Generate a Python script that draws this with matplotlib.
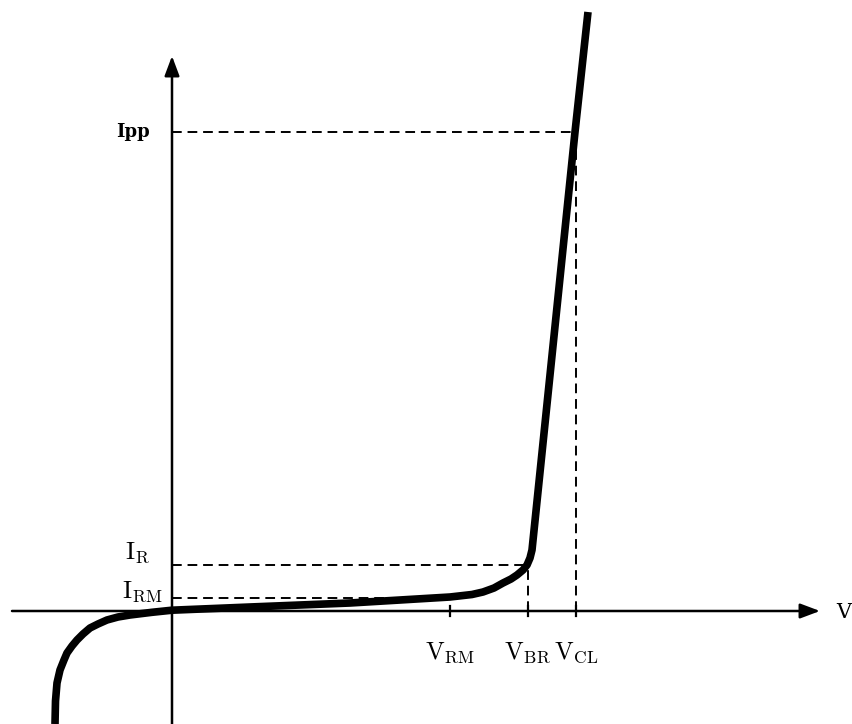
import matplotlib
matplotlib.use('Agg')
import matplotlib.pyplot as plt

plt.rcParams['mathtext.fontset'] = 'cm'
plt.rcParams['font.family'] = 'DejaVu Serif'

# diode I-V curve (arbitrary units, origin at axes cross)
volt = [-117, -116.5, -115, -112, -108, -105, -100, -95, -89, -82, -74, -65, -54,
        -42, -20, 0, 78, 178, 228, 278, 300, 311, 322, 331, 339, 345, 351, 355,
        358, 360, 403, 416]
curr = [-113, -90, -72, -59, -49, -42, -35, -29, -23, -17, -13, -9, -6,
        -4, -1.3, 0.8, 4, 8, 11, 14, 16.5, 19, 23, 28, 32, 36, 41, 46,
        53, 61, 479, 599]

# characteristic points
v_names = [r'$\mathrm{V_{RM}}$', r'$\mathrm{V_{BR}}$', r'$\mathrm{V_{CL}}$']
v_vals = [278, 356, 404]
i_names = [r'$\mathrm{I_{RM}}$', r'$\mathrm{I_R}$', 'Ipp']
i_vals = [13, 46, 479]
i_ends = [278, 356, 404]  # where each dashed current guide stops

fig = plt.figure(figsize=(8.52, 7.24), dpi=100)
ax = fig.add_axes([0, 0, 1, 1])
ax.set_xlim(-172, 680)
ax.set_ylim(-113, 611)
ax.axis('off')

# axes with arrows
ax.annotate('', xy=(648, 0), xytext=(-160, 0),
            arrowprops=dict(arrowstyle='-|>,head_length=1.2,head_width=0.45',
                            color='black', lw=1.8, shrinkA=0, shrinkB=0))
ax.annotate('', xy=(0, 555), xytext=(0, -113),
            arrowprops=dict(arrowstyle='-|>,head_length=1.2,head_width=0.45',
                            color='black', lw=1.8, shrinkA=0, shrinkB=0))
ax.text(664, -2, 'V', fontsize=15, va='center', ha='left')

# dashed guides
for iv, ie in zip(i_vals, i_ends):
    ax.plot([0, ie], [iv, iv], color='black', lw=1.4, ls=(0, (5, 3)))
for vv, iv in zip(v_vals[1:], i_vals[1:]):
    ax.plot([vv, vv], [0, iv], color='black', lw=1.4, ls=(0, (5, 3)))

# small ticks on V axis
for vv in v_vals:
    ax.plot([vv, vv], [-5, 5], color='black', lw=1.6)

# the curve
ax.plot(volt, curr, color='black', lw=5.5, solid_capstyle='butt', solid_joinstyle='round')

# labels
for name, vv in zip(v_names, v_vals):
    ax.text(vv, -42, name, fontsize=18, ha='center', va='center')
ax.text(-10, 19, i_names[0], fontsize=18, ha='right', va='center')
ax.text(-22, 58, i_names[1], fontsize=18, ha='right', va='center')
ax.text(-22, i_vals[2], i_names[2], fontsize=13, fontweight='bold', ha='right', va='center')

fig.savefig('out.png', dpi=100)
